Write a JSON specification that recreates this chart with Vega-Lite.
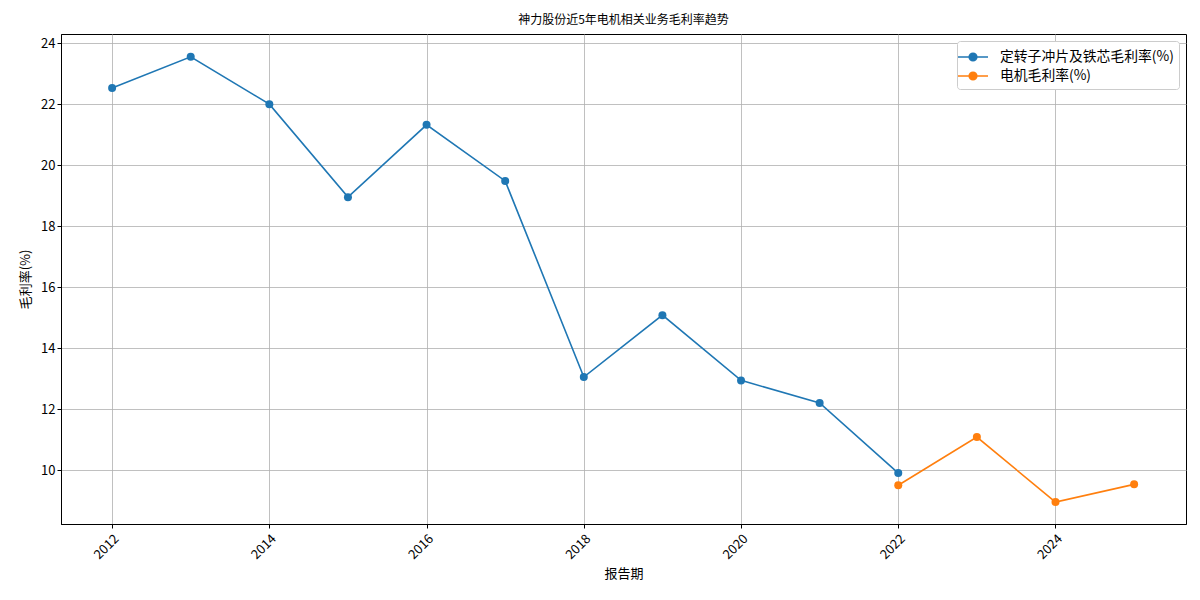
{
  "$schema": "https://vega.github.io/schema/vega-lite/v6.json",
  "width": 1125,
  "height": 490,
  "autosize": "none",
  "padding": {"left": 61, "top": 34, "right": 14, "bottom": 76},
  "background": "white",
  "title": {"text": "神力股份近5年电机相关业务毛利率趋势", "font": "Noto Sans CJK SC", "fontSize": 12, "fontWeight": "normal", "color": "black", "offset": 7},
  "config": {
    "font": "Noto Sans CJK SC",
    "view": {"stroke": "black", "strokeWidth": 1},
    "axis": {"labelFont": "Noto Sans CJK SC", "titleFont": "Noto Sans CJK SC", "labelFontSize": 13, "titleFontSize": 13, "titleFontWeight": "normal", "labelColor": "black", "titleColor": "black", "domainColor": "black", "tickColor": "black", "tickSize": 4, "gridColor": "#b0b0b0", "gridOpacity": 1, "gridWidth": 0.8}
  },
  "data": {"values": [
    {"year": 2012, "series": "定转子冲片及铁芯毛利率(%)", "v": 22.53},
    {"year": 2013, "series": "定转子冲片及铁芯毛利率(%)", "v": 23.55},
    {"year": 2014, "series": "定转子冲片及铁芯毛利率(%)", "v": 22.0},
    {"year": 2015, "series": "定转子冲片及铁芯毛利率(%)", "v": 18.95},
    {"year": 2016, "series": "定转子冲片及铁芯毛利率(%)", "v": 21.32},
    {"year": 2017, "series": "定转子冲片及铁芯毛利率(%)", "v": 19.48},
    {"year": 2018, "series": "定转子冲片及铁芯毛利率(%)", "v": 13.05},
    {"year": 2019, "series": "定转子冲片及铁芯毛利率(%)", "v": 15.08},
    {"year": 2020, "series": "定转子冲片及铁芯毛利率(%)", "v": 12.94},
    {"year": 2021, "series": "定转子冲片及铁芯毛利率(%)", "v": 12.2},
    {"year": 2022, "series": "定转子冲片及铁芯毛利率(%)", "v": 9.9},
    {"year": 2022, "series": "电机毛利率(%)", "v": 9.5},
    {"year": 2023, "series": "电机毛利率(%)", "v": 11.08},
    {"year": 2024, "series": "电机毛利率(%)", "v": 8.95},
    {"year": 2025, "series": "电机毛利率(%)", "v": 9.53}
  ]},
  "mark": {"type": "line", "strokeWidth": 1.6, "point": {"filled": true, "size": 64, "opacity": 1}},
  "encoding": {
    "x": {"field": "year", "type": "quantitative", "title": "报告期",
      "scale": {"domain": [2011.35, 2025.66], "nice": false, "zero": false},
      "axis": {"values": [2012, 2014, 2016, 2018, 2020, 2022, 2024], "format": "d", "labelAngle": -45, "labelAlign": "right", "labelBaseline": "top", "labelPadding": 4, "titlePadding": 6}},
    "y": {"field": "v", "type": "quantitative", "title": "毛利率(%)",
      "scale": {"domain": [8.23, 24.3], "nice": false, "zero": false},
      "axis": {"values": [10, 12, 14, 16, 18, 20, 22, 24], "titlePadding": 8}},
    "color": {"field": "series", "type": "nominal",
      "scale": {"domain": ["定转子冲片及铁芯毛利率(%)", "电机毛利率(%)"], "range": ["#1f77b4", "#ff7f0e"]},
      "legend": {"title": null, "orient": "top-right", "offset": 7, "labelFontSize": 13.8, "labelFont": "Noto Sans CJK SC", "labelColor": "black", "labelLimit": 400,
        "symbolType": "M-1.5,0H1.5M-0.38,0a0.38,0.38 0 1,0 0.76,0a0.38,0.38 0 1,0 -0.76,0", "symbolSize": 400, "symbolStrokeWidth": 1.6, "symbolFillColor": "transparent",
        "padding": 5, "strokeColor": "#cccccc", "fillColor": "white", "cornerRadius": 3, "rowPadding": 0, "labelOffset": 16}}
  }
}
